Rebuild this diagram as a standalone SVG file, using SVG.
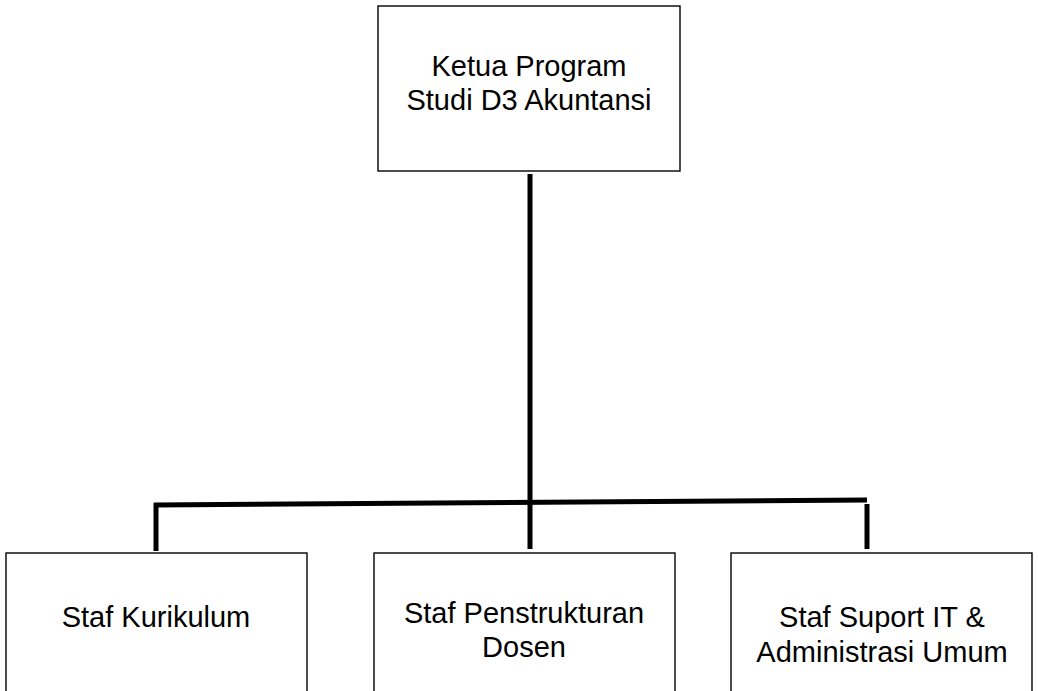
<svg xmlns="http://www.w3.org/2000/svg" width="1038" height="691" viewBox="0 0 1038 691">
<style>
.box{fill:#fff;stroke:#000;stroke-width:1.4}
.t{font-family:"Liberation Sans",Arial,sans-serif;font-size:29px;fill:#000;text-anchor:middle}
.c{stroke:#000;stroke-width:5;fill:none}
</style>
<rect width="1038" height="691" fill="#fff"/>
<g id="connectors">
<line class="c" x1="530" y1="174" x2="530" y2="549"/>
<line class="c" x1="154" y1="505" x2="867" y2="500"/>
<line class="c" x1="156" y1="503" x2="156" y2="551"/>
<line class="c" x1="867" y1="504" x2="867" y2="549"/>
</g>
<g id="ketua">
<rect class="box" x="378" y="6" width="302" height="165"/>
<text class="t" x="529" y="76">Ketua Program</text>
<text class="t" x="529" y="110">Studi D3 Akuntansi</text>
</g>
<g id="kurikulum">
<rect class="box" x="6" y="553" width="301" height="150"/>
<text class="t" x="156" y="627">Staf Kurikulum</text>
</g>
<g id="penstrukturan">
<rect class="box" x="374" y="553" width="301" height="150"/>
<text class="t" x="524" y="623">Staf Penstrukturan</text>
<text class="t" x="524" y="657">Dosen</text>
</g>
<g id="suport">
<rect class="box" x="731" y="553" width="301" height="150"/>
<text class="t" x="882" y="627">Staf Suport IT &amp;</text>
<text class="t" x="882" y="662">Administrasi Umum</text>
</g>
</svg>
